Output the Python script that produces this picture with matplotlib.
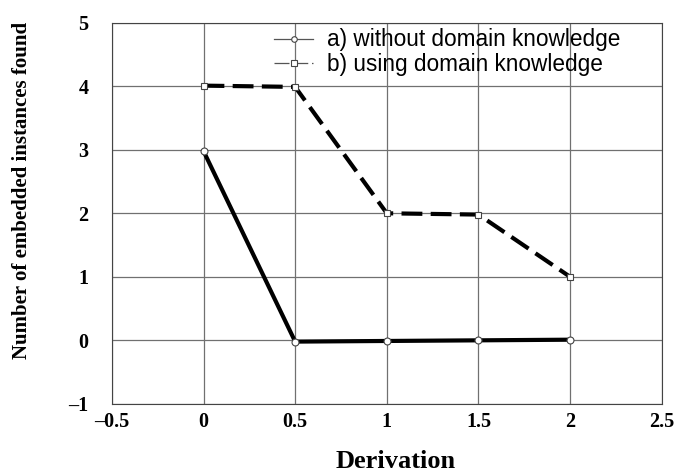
import matplotlib.pyplot as plt

derivation = [0, 0.5, 1, 1.5, 2]
without_dk = [2.98, -0.02, -0.01, 0.0, 0.01]
using_dk = [4.01, 3.99, 2.0, 1.98, 1.0]

xticks = [-0.5, 0, 0.5, 1, 1.5, 2, 2.5]
yticks = [-1, 0, 1, 2, 3, 4, 5]

fig = plt.figure(figsize=(6.78, 4.74), dpi=100)
ax = fig.add_axes([0.165, 0.148, 0.811, 0.804])

ax.plot(derivation, without_dk, color='black', lw=3, marker='o', ms=5,
        mfc='white', mec='#444444', mew=0.8, label='a) without domain knowledge')
ax.plot(derivation, using_dk, color='black', lw=3, ls=(0, (5, 2)), marker='s', ms=5,
        mfc='white', mec='#444444', mew=0.8, label='b) using domain knowledge')

ax.set_xlim(-0.5, 2.5)
ax.set_ylim(-1, 5)
ax.set_xticks(xticks)
ax.set_yticks(yticks)
ax.set_xticklabels(['\u20130.5', '0', '0.5', '1', '1.5', '2', '2.5'])
ax.set_yticklabels(['\u20131', '0', '1', '2', '3', '4', '5'])
for lab in ax.get_xticklabels() + ax.get_yticklabels():
    lab.set_fontfamily('Liberation Serif')
    lab.set_fontweight('bold')
    lab.set_fontsize(14.5)
ax.tick_params(axis='y', length=0, pad=17)
ax.tick_params(axis='x', length=0, pad=6)
ax.grid(True, color='#707070', lw=0.9)
for s in ax.spines.values():
    s.set_color('#444444')
    s.set_linewidth(0.8)

ax.set_xlabel('Derivation', fontfamily='Liberation Serif', fontweight='bold',
              fontsize=19, va='center')
ax.xaxis.set_label_coords(0.516, -0.15)
ax.set_ylabel('Number of embedded instances found', fontfamily='Liberation Serif',
              fontweight='bold', fontsize=15, va='center')
ax.yaxis.set_label_coords(-0.164, 0.56)

leg = ax.legend(loc='upper right', bbox_to_anchor=(0.924, 0.985), frameon=False,
                prop={'family': 'Liberation Sans', 'size': 16.3},
                borderaxespad=0, borderpad=0,
                handlelength=1.7, labelspacing=0.05, handletextpad=0.6)
for h in leg.get_lines():
    h.set_linewidth(0.9)
    h.set_color('#555555')
    h.set_markersize(4)
leg.get_lines()[1].set_linestyle((0, (12, 3)))

fig.savefig('out.png', dpi=100, facecolor='white')
